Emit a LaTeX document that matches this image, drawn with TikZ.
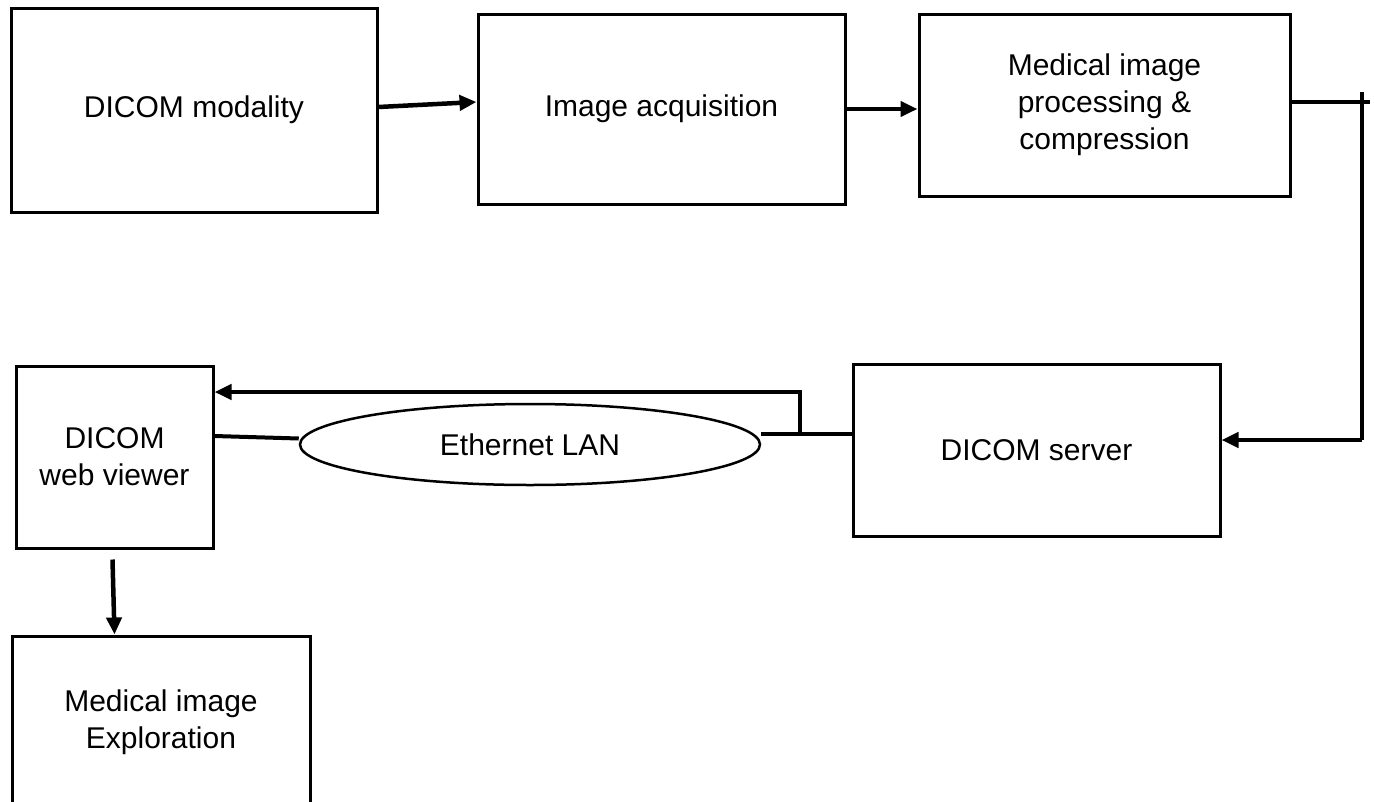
\documentclass[tikz,border=0pt]{standalone}
\usepackage{fontspec}
\setmainfont{Liberation Sans}
\usepackage{tikz}
\usetikzlibrary{arrows.meta,shapes.geometric}
\tikzset{
  block/.style={draw, line width=3pt, rectangle, align=center, inner sep=0pt},
  link/.style={line width=4.5pt, -{Triangle[length=17pt,width=15pt]}},
  wire/.style={line width=4pt}
}
\begin{document}
\begin{tikzpicture}[x=1pt,y=-1pt,font=\fontsize{30}{37}\selectfont]
      \useasboundingbox (0,0) rectangle (1374,801);
      \node[name=modality, block, minimum width=366pt, minimum height=204pt] at (194,110) {DICOM modality};
      \node[name=acquire, block, minimum width=367pt, minimum height=190pt] at (661.5,109) {Image acquisition};
      \node[name=process, block, minimum width=371pt, minimum height=182pt] at (1104.5,105) {Medical image\\processing \&\\compression};
      \node[name=viewer, block, minimum width=197pt, minimum height=182pt] at (114.5,457) {DICOM\\web viewer};
      \node[name=lan, ellipse, draw, line width=2.5pt, minimum width=460pt, minimum height=81pt, inner sep=0pt] at (530,444.5) {Ethernet LAN};
      \node[name=server, block, minimum width=367pt, minimum height=172pt] at (1036.5,450) {DICOM server};
      \node[name=explore, block, minimum width=298pt, minimum height=172pt] at (161,722) {Medical image\\Exploration};
      \coordinate (corner) at (1362,440);
      \coordinate (tap) at (800,434);
      \coordinate (up) at (800,392);
      \draw[link] ([yshift=3pt]modality.east) -- ([yshift=7pt]acquire.west);
      \draw[link] (acquire.east) -- (acquire.east -| process.west);
      \draw[wire] ([yshift=3pt]process.east) -- ++(78,0);
      \draw[wire] (1362,92) -- (corner);
      \draw[link] (corner) -- (corner -| server.east);
      \draw[wire] (lan.east |- tap) -- (server.west |- tap);
      \draw[link] (tap) -- (up) -- (viewer.east |- up);
      \draw[wire] ([yshift=21pt]viewer.east) -- ([yshift=6pt]lan.west);
      \draw[link] ([yshift=-10pt,xshift=-2pt]viewer.south) -- (viewer.south |- explore.north);
   \end{tikzpicture}
\end{document}
